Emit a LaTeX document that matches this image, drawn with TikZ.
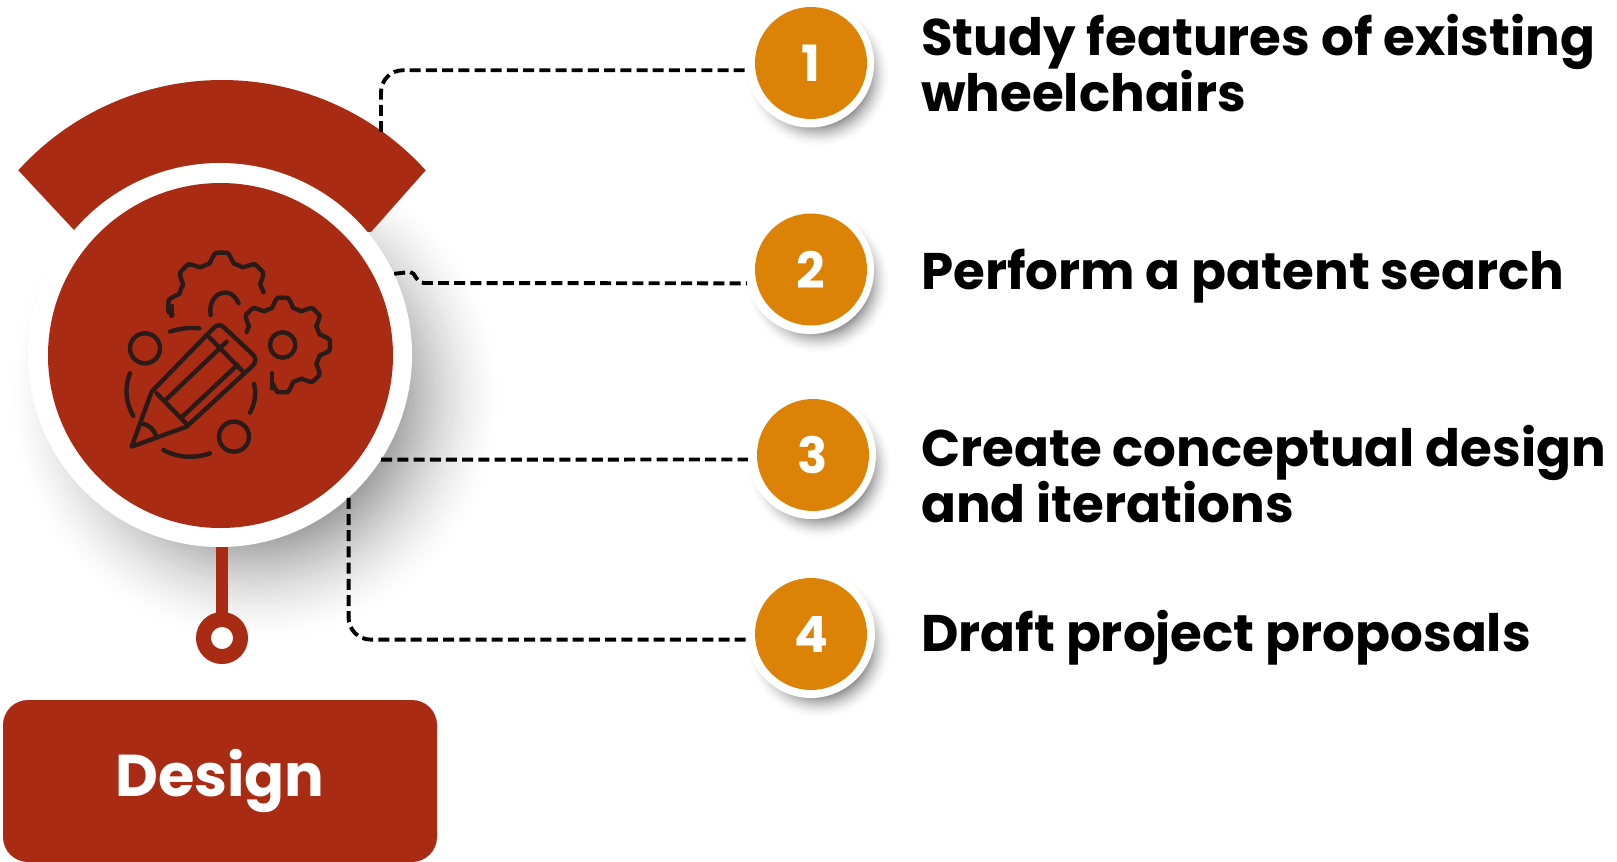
\documentclass[tikz,border=0pt]{standalone}
\usepackage{fontspec}
\setmainfont{Poppins}
\usetikzlibrary{calc}
\definecolor{brick}{HTML}{A92B14}
\definecolor{amber}{HTML}{DC8207}
\definecolor{inkc}{HTML}{2A1A18}
\tikzset{
  x=1pt,y=1pt,
  ringnode/.style={circle,fill=white,minimum size=128pt,inner sep=0pt},
  numnode/.style={circle,fill=amber,minimum size=112pt,inner sep=0pt,text=white,font=\fontsize{50}{50}\selectfont\bfseries},
  conn/.style={draw=black,line width=3.9pt,dash pattern=on 11pt off 5.2pt},
  label/.style={anchor=north west,align=left,inner sep=0pt,text=black,font=\fontsize{51.5}{54}\selectfont\bfseries},
  iconline/.style={draw=inkc,line width=4.4pt,line cap=round,line join=round},
}
\newcommand\softdisc[5]{% x y Rout Rin maxlevel
  \foreach \i in {0,...,40}{
    \pgfmathsetmacro\rr{#3-(#3-#4)*\i/40}
    \pgfmathsetmacro\lv{#5*(\i/40)^1.6}
    \fill[black!\lv!white] (#1,#2) circle (\rr);
  }}
\newcommand\gearline[6]{\draw[iconline] plot[variable=\t,domain=#5:#6,samples=140] ({#1+((#3+#4)/2+(#4-#3)/2*max(-1,min(1,1.6*cos(8*(\t-90)))))*cos(\t)},{-(#2-((#3+#4)/2+(#4-#3)/2*max(-1,min(1,1.6*cos(8*(\t-90)))))*sin(\t))});}
\begin{document}
\begin{tikzpicture}
\useasboundingbox (0,0) rectangle (1617,-862);
% shadows
\softdisc{255}{-395}{250}{120}{50}
\softdisc{818}{-75}{72}{50}{45}
\softdisc{818}{-281.5}{72}{50}{45}
\softdisc{820}{-467}{72}{50}{45}
\softdisc{819}{-646}{72}{50}{45}
% band
\fill[brick] ($(222,-355)+(137.8:275)$) arc[start angle=137.8,end angle=42.2,radius=275] -- (371,-232) -- (74,-230) -- cycle;
% stem
\fill[brick] (215.5,-540) rectangle (227.5,-615);
\node[circle,draw=brick,line width=15pt,fill=white,minimum size=37pt,inner sep=0pt] (knob) at (222,-638) {};
% hub
\node[circle,fill=white,minimum size=384pt,inner sep=0pt] (hub) at (220,-355) {};
\node[circle,fill=brick,minimum size=345pt,inner sep=0pt] (core) at (220.5,-355.5) {};
% icon
\begin{scope}[shift={(0,-60)},x=0.3333pt,y=0.3333pt]
\gearline{665}{738}{132}{160}{190}{18}
\draw[iconline] (515,-768) -- (515,-738);
\draw[iconline] (632,-765) .. controls (622,-700) and (690,-670) .. (716,-730);
\gearline{848}{855}{115}{142}{160}{-104}
\draw[iconline] (816,-985) -- (816,-940);
\draw[iconline] (848,-855) circle (38);
\draw[iconline] (435,-865) circle (45);
\draw[iconline] (702,-1130) circle (45);
\draw[iconline] (510,-815) .. controls (540,-805) and (570,-802) .. (598,-805);
\draw[iconline] (390,-940) .. controls (372,-985) and (378,-1030) .. (400,-1068);
\draw[iconline] (490,-1170) .. controls (535,-1195) and (590,-1195) .. (630,-1180);
\draw[iconline] (762,-972) .. controls (770,-1000) and (765,-1030) .. (750,-1058);
\draw[iconline] (395,-1160) -- (455,-995) -- (640,-805) .. controls (655,-790) and (665,-795) .. (675,-805) -- (755,-880) .. controls (770,-895) and (770,-905) .. (755,-920) -- (560,-1100) -- cycle;
\draw[iconline] (628,-832) -- (732,-938);
\draw[iconline] (470,-1000) -- (558,-1090);
\draw[iconline] (495,-1022) -- (680,-845);
\draw[iconline] (545,-1072) -- (712,-915);
\draw[iconline] (428,-1092) .. controls (450,-1095) and (462,-1110) .. (468,-1128);
\end{scope}
% design box
\node[fill=brick,rounded corners=25pt,minimum width=434pt,minimum height=162pt,inner sep=0pt,text=white,font=\fontsize{59}{59}\selectfont\bfseries] (design) at (220,-781) {Design};
% number circles
\node[ringnode] (r1) at (810,-63.5) {};
\node[ringnode] (r2) at (810,-270) {};
\node[ringnode] (r3) at (812,-455) {};
\node[ringnode] (r4) at (811,-634) {};
\node[numnode] (n1) at (811,-63) {1};
\node[numnode] (n2) at (811,-269.5) {2};
\node[numnode] (n3) at (813,-455) {3};
\node[numnode] (n4) at (811,-634) {4};
% connectors
\coordinate (c1) at (381,-132);
\coordinate (c2a) at (410,-272);
\draw[conn,rounded corners=22pt] (c1) |- (r1.186);
\draw[conn] (hub.25.2) -- (c2a) .. controls (416,-272) and (415,-283) .. (424,-283) -- (r2.192);
\draw[conn] (hub.-33.3) -- (r3.184.5);
\draw[conn,rounded corners=22pt] (hub.-48.4) |- (r4.185);
% labels
\node[label] (t1) at (921,-14) {Study features of existing\\wheelchairs};
\node[label] (t2) at (921,-249) {Perform a patent search};
\node[label] (t3) at (921,-425) {Create conceptual design\\and iterations};
\node[label] (t4) at (921,-610) {Draft project proposals};
\end{tikzpicture}
\end{document}
